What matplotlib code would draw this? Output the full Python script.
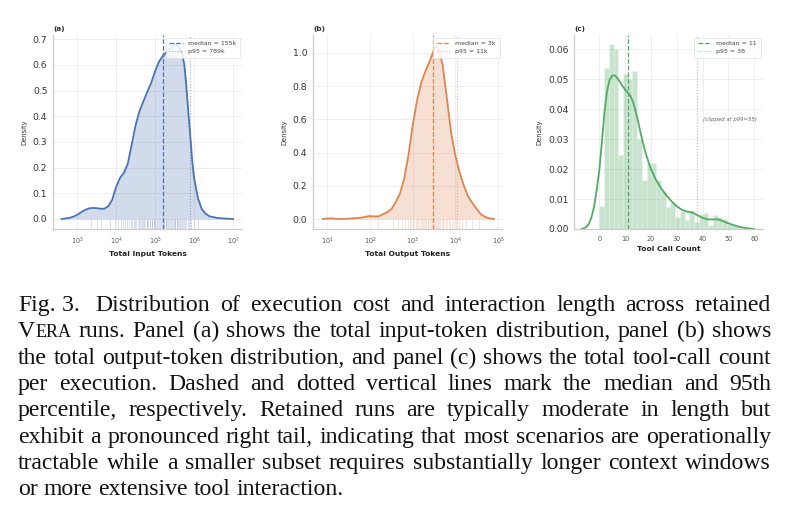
import matplotlib
matplotlib.use("Agg")
import matplotlib.pyplot as plt
import numpy as np

# ---------------- data ----------------
# Panel (a): KDE of total input tokens (x in log10 units)
a_logx = [2.6, 2.8, 2.9, 3.0, 3.1, 3.2, 3.3, 3.4, 3.5, 3.6, 3.7, 3.8, 3.9, 4.0,
          4.1, 4.2, 4.3, 4.4, 4.5, 4.6, 4.7, 4.8, 4.9, 5.0, 5.1, 5.2, 5.3, 5.4,
          5.5, 5.6, 5.65, 5.7, 5.75, 5.8, 5.85, 5.9, 5.95, 6.0, 6.1, 6.2, 6.3,
          6.4, 6.6, 6.8, 7.0]
a_dens = [0.0, 0.004, 0.009, 0.016, 0.026, 0.035, 0.041, 0.043, 0.042, 0.040,
          0.040, 0.050, 0.075, 0.125, 0.160, 0.180, 0.215, 0.290, 0.365, 0.420,
          0.458, 0.495, 0.530, 0.575, 0.612, 0.635, 0.650, 0.665, 0.680, 0.672,
          0.660, 0.640, 0.600, 0.520, 0.420, 0.330, 0.230, 0.160, 0.080, 0.038,
          0.020, 0.010, 0.004, 0.0015, 0.0]
a_rug_log = [3.35, 3.5, 3.62, 3.85, 3.98, 4.05, 4.12, 4.18, 4.22, 4.28, 4.33,
             4.37, 4.41, 4.45, 4.48, 4.52, 4.55, 4.58, 4.61, 4.64, 4.67, 4.70,
             4.72, 4.75, 4.78, 4.80, 4.83, 4.86, 4.88, 4.91, 4.93, 4.96, 4.98,
             5.01, 5.03, 5.06, 5.08, 5.10, 5.13, 5.15, 5.17, 5.20, 5.22, 5.24,
             5.27, 5.29, 5.31, 5.34, 5.36, 5.38, 5.41, 5.43, 5.45, 5.48, 5.50,
             5.52, 5.55, 5.57, 5.59, 5.62, 5.64, 5.66, 5.69, 5.71, 5.74, 5.77,
             5.80, 5.84, 5.88, 5.93, 6.0, 6.1]
a_median = 155e3
a_p95 = 789e3
a_labels = ["median = 155k", "p95 = 789k"]

# Panel (b): KDE of total output tokens (x in log10 units)
b_logx = [0.9, 1.0, 1.1, 1.2, 1.35, 1.5, 1.65, 1.8, 1.9, 2.0, 2.1, 2.2, 2.3,
          2.4, 2.5, 2.6, 2.7, 2.8, 2.9, 3.0, 3.1, 3.2, 3.3, 3.4, 3.5, 3.55,
          3.6, 3.7, 3.8, 3.9, 4.0, 4.1, 4.2, 4.3, 4.4, 4.5, 4.6, 4.7, 4.8, 4.9]
b_dens = [0.0, 0.003, 0.004, 0.002, 0.0, 0.002, 0.005, 0.008, 0.014, 0.018,
          0.016, 0.016, 0.028, 0.040, 0.058, 0.100, 0.150, 0.240, 0.380, 0.560,
          0.710, 0.820, 0.890, 0.950, 1.020, 1.045, 1.030, 0.930, 0.730, 0.520,
          0.380, 0.280, 0.200, 0.135, 0.095, 0.060, 0.028, 0.012, 0.004, 0.0]
b_rug_log = [2.2, 2.55, 2.65, 2.75, 2.82, 2.88, 2.93, 2.97, 3.0, 3.04, 3.07,
             3.1, 3.13, 3.16, 3.19, 3.22, 3.24, 3.27, 3.3, 3.32, 3.35, 3.37,
             3.4, 3.42, 3.45, 3.47, 3.5, 3.52, 3.55, 3.57, 3.6, 3.62, 3.65,
             3.68, 3.71, 3.74, 3.77, 3.8, 3.84, 3.88, 3.92, 3.97, 4.02, 4.08,
             4.15, 4.25, 4.38, 4.55]
b_median = 3.0e3
b_p95 = 11e3
b_labels = ["median = 3k", "p95 = 11k"]

# Panel (c): histogram (30 bins over 0..55) and KDE of tool-call count
c_bin_edges = list(np.linspace(0, 55, 31))
c_hist = [0.0077, 0.0538, 0.0616, 0.0600, 0.0247, 0.0516, 0.0500, 0.0528,
          0.0300, 0.0164, 0.0220, 0.0220, 0.0164, 0.0126, 0.0072, 0.0088,
          0.0040, 0.0060, 0.0030, 0.0065, 0.0022, 0.0050, 0.0055, 0.0012,
          0.0048, 0.0040, 0.0035, 0.0018, 0.0015, 0.0010]
c_x = [-7, -6, -5, -4, -3, -2, -1, 0, 1, 2, 3, 4, 5, 6, 7, 8, 9, 10, 11, 12,
       13, 14, 15, 16, 17, 18, 19, 20, 22, 24, 26, 28, 30, 32, 34, 36, 38, 40,
       42, 44, 46, 48, 50, 52, 54, 56, 58, 60]
c_dens = [0.0, 0.0002, 0.0007, 0.0018, 0.004, 0.0075, 0.013, 0.0195, 0.029,
          0.039, 0.046, 0.0498, 0.0512, 0.0512, 0.0503, 0.049, 0.0477, 0.0465,
          0.0455, 0.0445, 0.0425, 0.0395, 0.036, 0.032, 0.0285, 0.0252, 0.0225,
          0.020, 0.0163, 0.0135, 0.0112, 0.0092, 0.0076, 0.0064, 0.0058, 0.0055,
          0.0046, 0.0037, 0.0032, 0.0032, 0.0032, 0.0026, 0.0019, 0.0013,
          0.0008, 0.0004, 0.0002, 0.0]
c_median = 11
c_p95 = 38
c_labels = ["median = 11", "p95 = 38"]
c_note = "(clipped at p99=55)"

titles = ["(a)", "(b)", "(c)"]
xlabels = ["Total Input Tokens", "Total Output Tokens", "Tool Call Count"]

caption_lines = [
    [["Fig.", " 3. "], ["Distribution"], ["of"], ["execution"], ["cost"], ["and"], ["interaction"],
     ["length"], ["across"], ["retained"]],
    [["V", "ERA"], ["runs."], ["Panel"], ["(a)"], ["shows"], ["the"], ["total"],
     ["input-token"], ["distribution,"], ["panel"], ["(b)"], ["shows"]],
    "the total output-token distribution, and panel (c) shows the total tool-call count",
    "per execution. Dashed and dotted vertical lines mark the median and 95th",
    "percentile, respectively. Retained runs are typically moderate in length but",
    "exhibit a pronounced right tail, indicating that most scenarios are operationally",
    "tractable while a smaller subset requires substantially longer context windows",
    "or more extensive tool interaction.",
]

# ---------------- style ----------------
BLUE = "#4C72B0"
ORANGE = "#DD8452"
GREEN = "#55A868"
W, H = 785, 526

plt.rcParams["font.family"] = ["DejaVu Sans"]
fig = plt.figure(figsize=(W / 100, H / 100), dpi=100)


def px_axes(l, t, r, b):
    return fig.add_axes([l / W, 1 - b / H, (r - l) / W, (b - t) / H])


def style(ax, title, xlabel):
    ax.set_facecolor("white")
    for s in ["top", "right"]:
        ax.spines[s].set_visible(False)
    for s in ["left", "bottom"]:
        ax.spines[s].set_color("#cccccc")
        ax.spines[s].set_linewidth(0.9)
    ax.grid(True, which="major", color="#ebebeb", linewidth=0.6)
    ax.set_axisbelow(True)
    ax.tick_params(axis="both", which="both", length=0)
    ax.tick_params(axis="y", labelsize=6.7, labelcolor="#333333", pad=4)
    ax.tick_params(axis="x", labelsize=4.7, labelcolor="#555555", pad=5)
    ax.set_ylabel("Density", fontsize=4.9, color="#333333", labelpad=4)
    ax.set_xlabel(xlabel, fontsize=5.4, fontweight="bold", color="#222222", labelpad=3)
    ax.set_title(title, loc="left", fontsize=5.2, fontweight="bold", color="#333333", pad=3)


def add_lines(ax, med, p95, color, labels):
    ax.axvline(med, color=color, linestyle="--", linewidth=0.9, label=labels[0])
    ax.axvline(p95, color=color, linestyle=":", linewidth=0.8, alpha=0.6, label=labels[1])
    leg = ax.legend(loc="upper right", fontsize=4.5, frameon=True, framealpha=0.85,
                    edgecolor="#dddddd", fancybox=False, borderaxespad=0.4,
                    handlelength=2.2, borderpad=0.55, labelspacing=0.4)
    leg.get_frame().set_linewidth(0.5)
    for t in leg.get_texts():
        t.set_color("#444444")


def add_rug(ax, values, color):
    trans = ax.get_xaxis_transform()
    ax.vlines(values, 0.0, 0.05, transform=trans, color=color, alpha=0.3, linewidth=0.5)


# ---- panel (a)
ax = px_axes(53, 35, 242, 229)
xa = 10 ** np.array(a_logx)
ax.fill_between(xa, 0, a_dens, color=BLUE, alpha=0.25, linewidth=0)
add_rug(ax, 10 ** np.array(a_rug_log), BLUE)
ax.plot(xa, a_dens, color=BLUE, linewidth=1.3)
ax.set_xscale("log")
ax.set_xlim(10 ** 2.38, 10 ** 7.23)
ax.set_ylim(-0.039, 0.716)
ax.set_yticks(np.arange(0, 0.71, 0.1))
ax.set_yticklabels([f"{v:.1f}" for v in np.arange(0, 0.71, 0.1)])
ax.set_xticks([1e3, 1e4, 1e5, 1e6, 1e7])
ax.xaxis.set_minor_locator(matplotlib.ticker.NullLocator())
style(ax, titles[0], xlabels[0])
add_lines(ax, a_median, a_p95, BLUE, a_labels)

# ---- panel (b)
ax = px_axes(313, 35, 502, 229)
xb = 10 ** np.array(b_logx)
ax.fill_between(xb, 0, b_dens, color=ORANGE, alpha=0.25, linewidth=0)
add_rug(ax, 10 ** np.array(b_rug_log), ORANGE)
ax.plot(xb, b_dens, color=ORANGE, linewidth=1.3)
ax.set_xscale("log")
ax.set_xlim(10 ** 0.67, 10 ** 5.09)
ax.set_ylim(-0.060, 1.108)
ax.set_yticks([0, 0.2, 0.4, 0.6, 0.8, 1.0])
ax.set_yticklabels(["0.0", "0.2", "0.4", "0.6", "0.8", "1.0"])
ax.set_xticks([1e1, 1e2, 1e3, 1e4, 1e5])
ax.xaxis.set_minor_locator(matplotlib.ticker.NullLocator())
style(ax, titles[1], xlabels[1])
add_lines(ax, b_median, b_p95, ORANGE, b_labels)

# ---- panel (c)
ax = px_axes(574, 35, 763, 229)
edges = np.array(c_bin_edges)
ax.bar(edges[:-1], c_hist, width=np.diff(edges), align="edge", color=GREEN,
       alpha=0.32, edgecolor="white", linewidth=0.4)
ax.plot(c_x, c_dens, color=GREEN, linewidth=1.3)
ax.set_xlim(-9.8, 63.4)
ax.set_ylim(0, 0.0647)
ax.set_yticks([0, 0.01, 0.02, 0.03, 0.04, 0.05, 0.06])
ax.set_yticklabels(["0.00", "0.01", "0.02", "0.03", "0.04", "0.05", "0.06"])
ax.set_xticks([0, 10, 20, 30, 40, 50, 60])
style(ax, titles[2], xlabels[2])
add_lines(ax, c_median, c_p95, GREEN, c_labels)
ax.text(0.97, 0.565, c_note, transform=ax.transAxes, ha="right", va="center",
        fontsize=3.9, style="italic", color="#666666")

# ---------------- caption (justified) ----------------
CAP_FONT = "Liberation Serif"
renderer = fig.canvas.get_renderer()
left_px, right_px = 18, 771
base0, step = 311, 26.35


def tokens_of(line):
    if isinstance(line, str):
        return [[w] for w in line.split(" ")]
    return line


def measure(s, size):
    t = fig.text(0, 0, s, fontsize=size, family=CAP_FONT)
    w = t.get_window_extent(renderer).width
    t.remove()
    return w


def part_size(i, tok, size):
    # small caps: the tail of "VERA" is set smaller
    if len(tok) > 1 and tok[0] == "V" and i > 0:
        return size * 0.76
    return size


def natural_width(line, size):
    toks = tokens_of(line)
    sw = measure("a a", size) - measure("aa", size)
    tw = sum(sum(measure(p, part_size(i, tok, size)) for i, p in enumerate(tok)) for tok in toks)
    return tw + sw * (len(toks) - 1)


REF = 10.0
widest = max(natural_width(l, REF) for l in caption_lines[:-1])
CAP_SIZE = REF * (right_px - left_px) / widest * 0.995

space_w = measure("a a", CAP_SIZE) - measure("aa", CAP_SIZE)
for li, line in enumerate(caption_lines):
    toks = tokens_of(line)
    widths = [sum(measure(p, part_size(i, tok, CAP_SIZE)) for i, p in enumerate(tok))
              for tok in toks]
    last = li == len(caption_lines) - 1
    if last:
        gap = space_w
    else:
        gap = (right_px - left_px - sum(widths)) / (len(toks) - 1)
    x = left_px
    y = base0 + li * step
    for tok, w in zip(toks, widths):
        xx = x
        for i, p in enumerate(tok):
            sz = part_size(i, tok, CAP_SIZE)
            fig.text(xx / W, 1 - y / H, p, fontsize=sz, family=CAP_FONT,
                     ha="left", va="baseline", color="#111111")
            xx += measure(p, sz)
        x += w + gap

fig.savefig("out.png", dpi=100, facecolor="white")
